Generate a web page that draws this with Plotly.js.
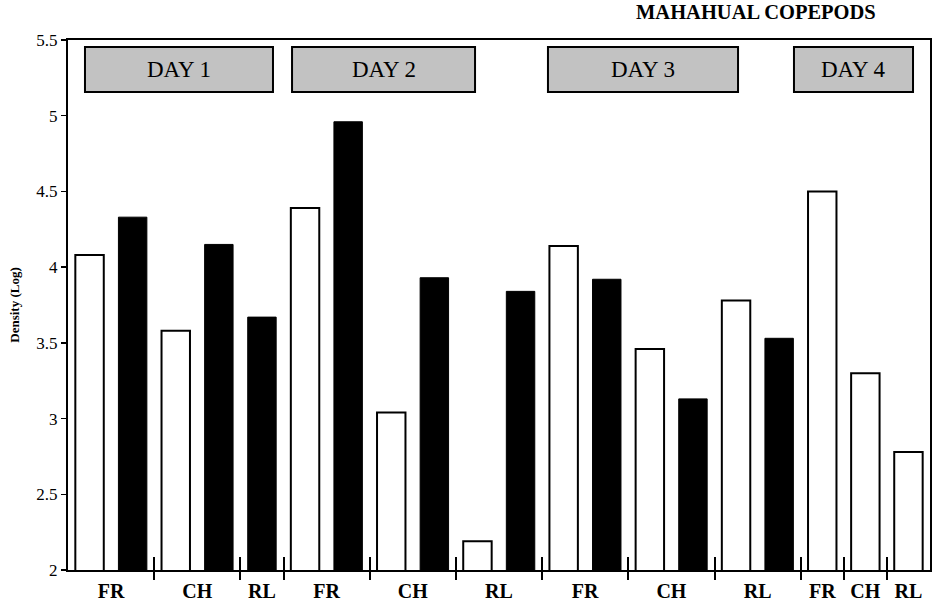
<!DOCTYPE html>
<html>
<head>
<meta charset="utf-8">
<script src="https://cdn.plot.ly/plotly-3.0.1.min.js"></script>
<style>html,body{margin:0;padding:0;background:#fff;}#chart{width:937px;height:603px;}</style>
</head>
<body>
<div id="chart"></div>
<script>
// ---- data ----
const dayLabels = ["DAY 1", "DAY 2", "DAY 3", "DAY 4"];
const groupDay = [1, 1, 1, 2, 2, 2, 3, 3, 3, 4, 4, 4];
const groupSite = ["FR", "CH", "RL", "FR", "CH", "RL", "FR", "CH", "RL", "FR", "CH", "RL"];
const whiteVals = [4.08, 3.58, null, 4.39, 3.04, 2.19, 4.14, 3.46, 3.78, 4.50, 3.30, 2.78];
const blackVals = [4.33, 4.15, 3.67, 4.96, 3.93, 3.84, 3.92, 3.13, 3.53, null, null, null];
const yTicks = [2, 2.5, 3, 3.5, 4, 4.5, 5, 5.5];

// ---- build slot layout from data ----
const wx = [], wy = [], bx = [], by = [];
const bounds = [], centers = [];
let s = 0;
for (let i = 0; i < groupSite.length; i++) {
  const start = s;
  if (whiteVals[i] !== null) { wx.push(s); wy.push(whiteVals[i]); s++; }
  if (blackVals[i] !== null) { bx.push(s); by.push(blackVals[i]); s++; }
  centers.push((start + s - 1) / 2);
  if (i > 0) bounds.push(start - 0.5);
}
const xr = [-0.5, s - 0.5];
const serif = "Liberation Serif, Times New Roman, serif";

const traces = [
  {type: "bar", x: wx, y: wy, width: 0.66, marker: {color: "#ffffff", line: {color: "#000", width: 2}}, hoverinfo: "y", showlegend: false},
  {type: "bar", x: bx, y: by, width: 0.66, marker: {color: "#000000", line: {color: "#000", width: 1}}, hoverinfo: "y", showlegend: false},
  {type: "scatter", x: [], y: [], xaxis: "x2", showlegend: false},
  {type: "scatter", x: [], y: [], xaxis: "x3", showlegend: false}
];

// day boxes (decoration, paper coords)
const dayBoxes = [[0.0197, 0.2378], [0.2599, 0.4722], [0.5568, 0.7773], [0.8422, 0.9803]];
const shapes = [], annotations = [];
dayBoxes.forEach((b, i) => {
  shapes.push({type: "rect", xref: "paper", yref: "paper", x0: b[0], x1: b[1], y0: 0.902, y1: 0.987,
    fillcolor: "#c2c2c2", line: {color: "#000", width: 2}, layer: "above"});
  annotations.push({xref: "paper", yref: "paper", x: (b[0] + b[1]) / 2, y: 0.9445, text: dayLabels[i],
    showarrow: false, font: {family: serif, size: 23, color: "#000"}, xanchor: "center", yanchor: "middle"});
});
annotations.push({xref: "paper", yref: "paper", x: 0.798, y: 1.053, text: "<b>MAHAHUAL COPEPODS</b>",
  showarrow: false, font: {family: serif, size: 20.5, color: "#000"}, xanchor: "center", yanchor: "middle"});

const layout = {
  width: 937, height: 603,
  margin: {l: 68, r: 7, t: 40, b: 33},
  paper_bgcolor: "#fff", plot_bgcolor: "#fff",
  barmode: "overlay",
  font: {family: serif, color: "#000"},
  xaxis: {range: xr, showline: true, linecolor: "#000", linewidth: 2, mirror: true,
    tickmode: "array", tickvals: bounds, ticks: "outside", ticklen: 8, tickwidth: 2, tickcolor: "#000",
    showticklabels: false, showgrid: false, zeroline: false, fixedrange: true},
  xaxis2: {range: xr, overlaying: "x", anchor: "y", side: "bottom", showline: false,
    tickmode: "array", tickvals: bounds, ticks: "inside", ticklen: 13, tickwidth: 2, tickcolor: "#000",
    showticklabels: false, showgrid: false, zeroline: false},
  xaxis3: {range: xr, overlaying: "x", anchor: "y", side: "bottom", showline: false,
    tickmode: "array", tickvals: centers, ticktext: groupSite.map(t => "<b>" + t + "</b>"),
    ticks: "outside", ticklen: 3, tickcolor: "rgba(0,0,0,0)",
    tickfont: {family: serif, size: 20, color: "#000"}, showgrid: false, zeroline: false},
  yaxis: {range: [2, 5.5], tickmode: "array", tickvals: yTicks, ticktext: yTicks.map(String),
    showline: true, linecolor: "#000", linewidth: 2, mirror: true,
    ticks: "outside", ticklen: 5, tickwidth: 1.5, tickcolor: "#000",
    tickfont: {family: serif, size: 17, color: "#000"}, showgrid: false, zeroline: false,
    title: {text: "<b>Density (Log)</b>", font: {family: serif, size: 13, color: "#000"}, standoff: 14}},
  shapes: shapes,
  annotations: annotations
};

Plotly.newPlot("chart", traces, layout, {displayModeBar: false, staticPlot: true});
</script>
</body>
</html>
